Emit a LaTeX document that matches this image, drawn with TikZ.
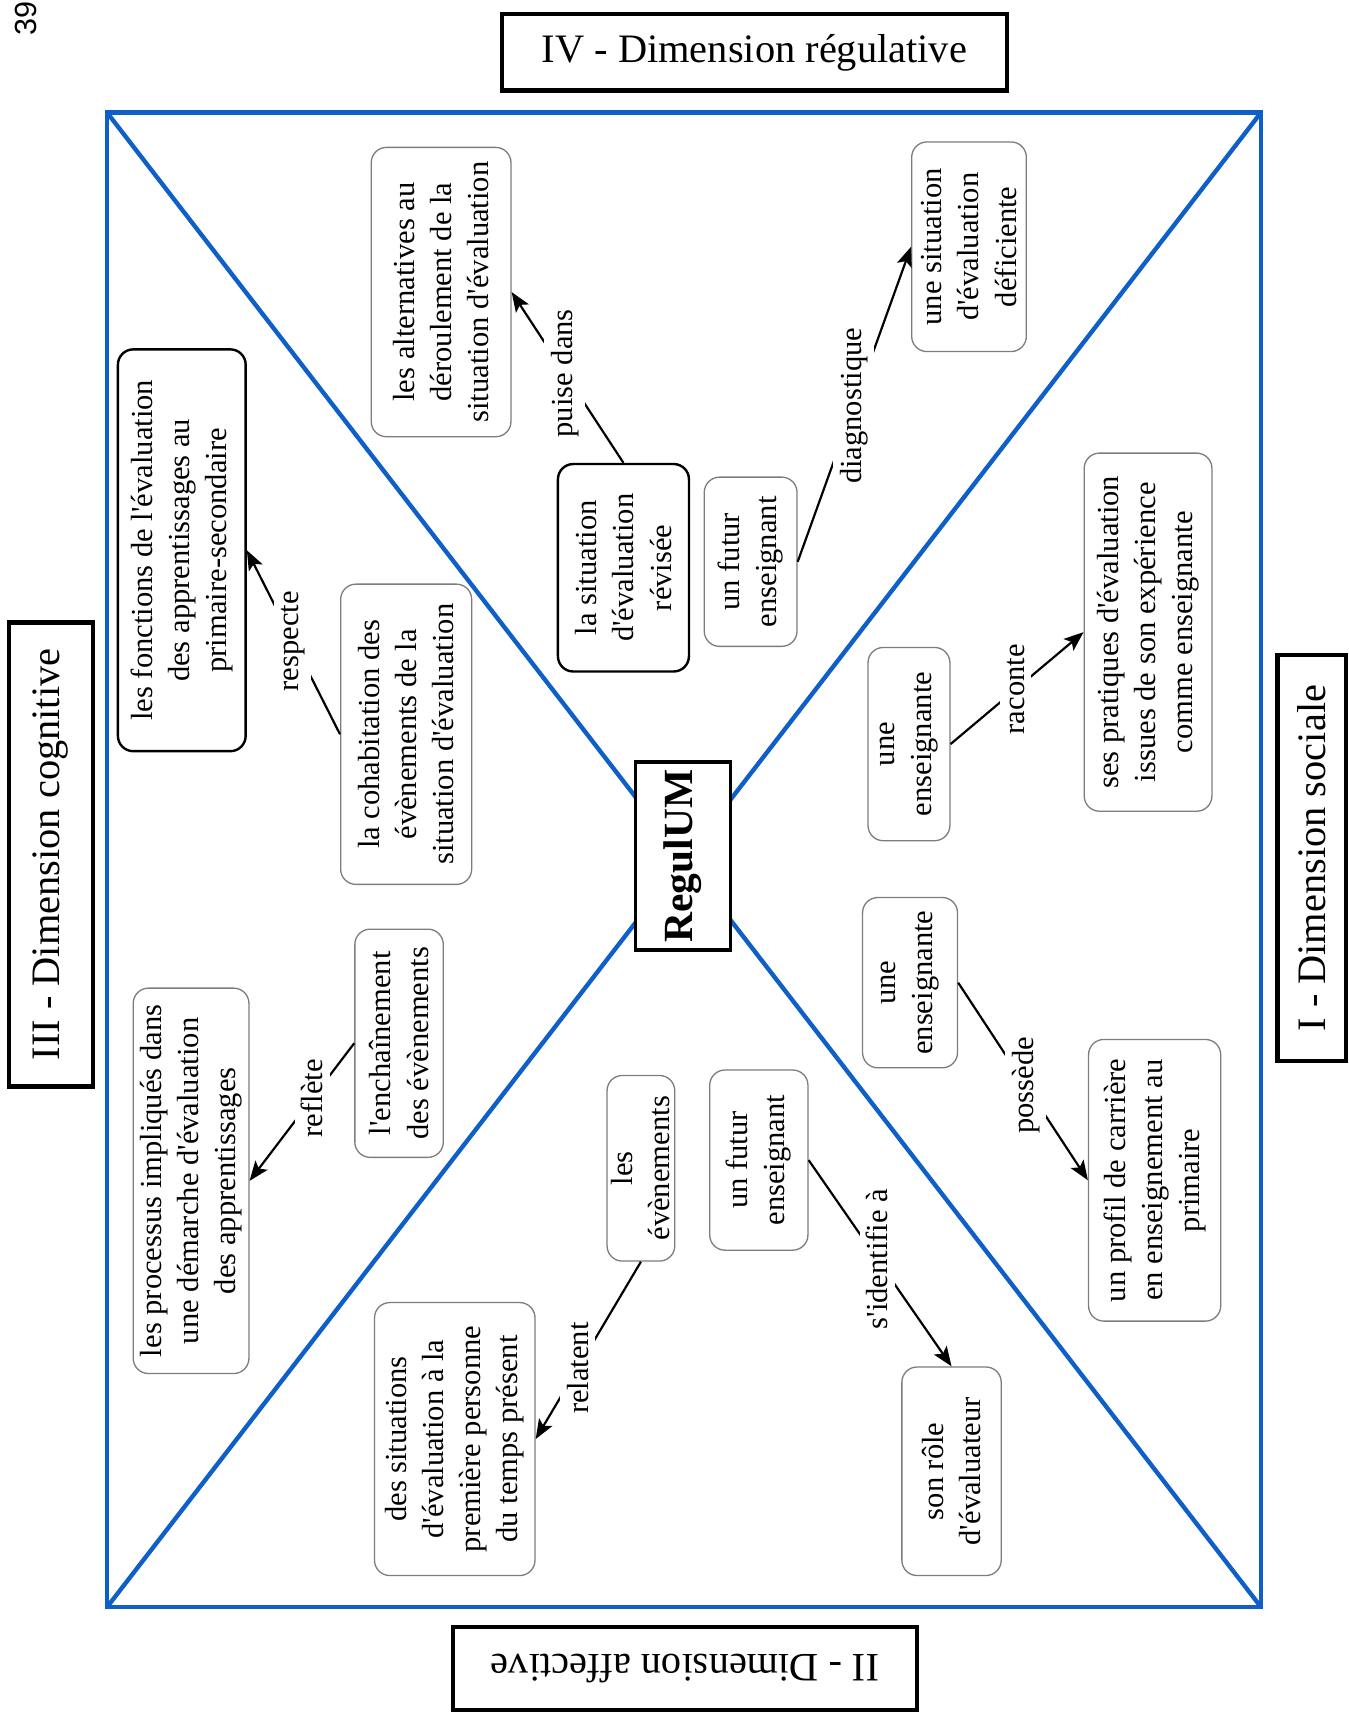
\documentclass[tikz,border=0pt]{standalone}
\usepackage{fontspec}
\setmainfont{Liberation Serif}[Ligatures=TeXOff]
\setsansfont{Liberation Sans}
\usetikzlibrary{arrows.meta}
\definecolor{frameblue}{RGB}{15,95,200}
\definecolor{boxgray}{RGB}{125,125,125}
\begin{document}
\begin{tikzpicture}[x=0.5pt,y=-0.5pt,
  cbox/.style={draw=boxgray, line width=0.6pt, rounded corners=7pt, fill=white, rotate=90, align=center, inner sep=2pt, font=\fontsize{14}{17}\selectfont},
  bbox/.style={cbox, draw=black, line width=1.1pt},
  lab/.style={fill=white, rotate=90, inner sep=3pt, font=\fontsize{14}{17}\selectfont},
  conn/.style={line width=1pt},
  arr/.style={conn, -{Stealth[length=9pt,width=7pt,inset=2pt]}},
  dim/.style={draw, line width=2pt, fill=white, inner sep=2pt, font=\fontsize{18.5}{22}\selectfont},
  frame/.style={draw=frameblue, line width=2pt, line join=miter}
]
\useasboundingbox (0,0) rectangle (1235,1568);

% page number
\node[rotate=90, anchor=west, inner sep=0pt, font=\sffamily\fontsize{14}{16}\selectfont] (pg) at (24,33) {39};

% frame and diagonals
\coordinate (tl) at (98,103);
\coordinate (tr) at (1155,103);
\coordinate (bl) at (98,1472);
\coordinate (br) at (1155,1472);
\path[frame] (tl) rectangle (br);
\path[frame] (tl) -- (br);
\path[frame] (tr) -- (bl);

% centre
\node[draw, line width=1.6pt, fill=white, rotate=90, minimum width=86pt, minimum height=43.5pt, inner sep=2pt, font=\bfseries\fontsize{19}{22}\selectfont] (reg) at (625.5,784) {RegulUM};

% dimension headings
\node[dim, minimum width=231pt, minimum height=35pt] (d4) at (691,48) {IV - Dimension régulative};
\node[dim, rotate=90, minimum width=212.5pt, minimum height=38.5pt] (d3) at (46.5,782.5) {III - Dimension cognitive};
\node[dim, rotate=90, minimum width=186pt, minimum height=31.5pt] (d1) at (1201.5,786) {I - Dimension sociale};
\node[dim, rotate=180, minimum width=212.5pt, minimum height=38pt] (d2) at (627.5,1528) {II - Dimension affective};

% quadrant IV
\node[cbox, minimum width=132.5pt, minimum height=64pt] (b1) at (404,267.5) {les alternatives au\\déroulement de la\\situation d'évaluation};
\node[bbox, minimum width=95pt, minimum height=60pt] (b2) at (571,520) {la situation\\d'évaluation\\révisée};
\node[cbox, minimum width=77.5pt, minimum height=42.5pt] (b3) at (687.5,514.5) {un futur\\enseignant};
\node[cbox, minimum width=96pt, minimum height=52.5pt] (b4) at (887.5,226) {une situation\\d'évaluation\\déficiente};

% quadrant III
\node[bbox, minimum width=184pt, minimum height=58.5pt] (b5) at (166.5,504) {les fonctions de l'évaluation\\des apprentissages au\\primaire-secondaire};
\node[cbox, minimum width=137.5pt, minimum height=60pt] (b6) at (372,672.5) {la cohabitation des\\évènements de la\\situation d'évaluation};
\node[cbox, minimum width=176.5pt, minimum height=53pt] (b7) at (175,1081.5) {les processus impliqués dans\\une démarche d'évaluation\\des apprentissages};
\node[cbox, minimum width=104.5pt, minimum height=40.5pt] (b8) at (365.5,955.5) {l'enchaînement\\des évènements};

% quadrant II
\node[cbox, minimum width=85pt, minimum height=31pt, inner sep=1pt] (b9) at (587,1070) {les\\évènements};
\node[cbox, minimum width=82.5pt, minimum height=45pt] (b10) at (695,1062.5) {un futur\\enseignant};
\node[cbox, minimum width=125pt, minimum height=73.5pt] (b11) at (416.5,1318) {des situations\\d'évaluation à la\\première personne\\du temps présent};
\node[cbox, minimum width=95.5pt, minimum height=45.5pt] (b12) at (871.5,1347.5) {son rôle\\d'évaluateur};

% quadrant I
\node[cbox, minimum width=88.5pt, minimum height=37.5pt] (b13) at (832.5,681.5) {une\\enseignante};
\node[cbox, minimum width=164pt, minimum height=58.5pt] (b14) at (1051.5,579) {ses pratiques d'évaluation\\issues de son expérience\\comme enseignante};
\node[cbox, minimum width=78pt, minimum height=43.5pt] (b15) at (833.5,900) {une\\enseignante};
\node[cbox, minimum width=129pt, minimum height=60.5pt] (b16) at (1057.5,1081) {un profil de carrière\\en enseignement au\\primaire};

% connectors with linking phrases
\draw[arr] (b2.east) -- node[lab, pos=0.524] (l1) {puise dans} (b1.south);
\draw[arr] (b3.south) -- node[lab, pos=0.495] (l2) {diagnostique} (b4.north);
\draw[arr] (b6.north) -- node[lab, pos=0.506] (l3) {respecte} (b5.south);
\draw[arr] (b8.north) -- node[lab, pos=0.40] (l4) {reflète} (b7.south);
\draw[arr] (b9.west) -- node[lab, pos=0.60] (l5) {relatent} (b11.south);
\draw[arr] (b10.south) -- node[lab, pos=0.48] (l6) {s'identifie à} (b12.east);
\draw[arr] (b13.south) -- node[lab, pos=0.49] (l7) {raconte} (b14.north);
\draw[arr] (b15.south) -- node[lab, pos=0.52] (l8) {possède} (b16.north);
\end{tikzpicture}
\end{document}
